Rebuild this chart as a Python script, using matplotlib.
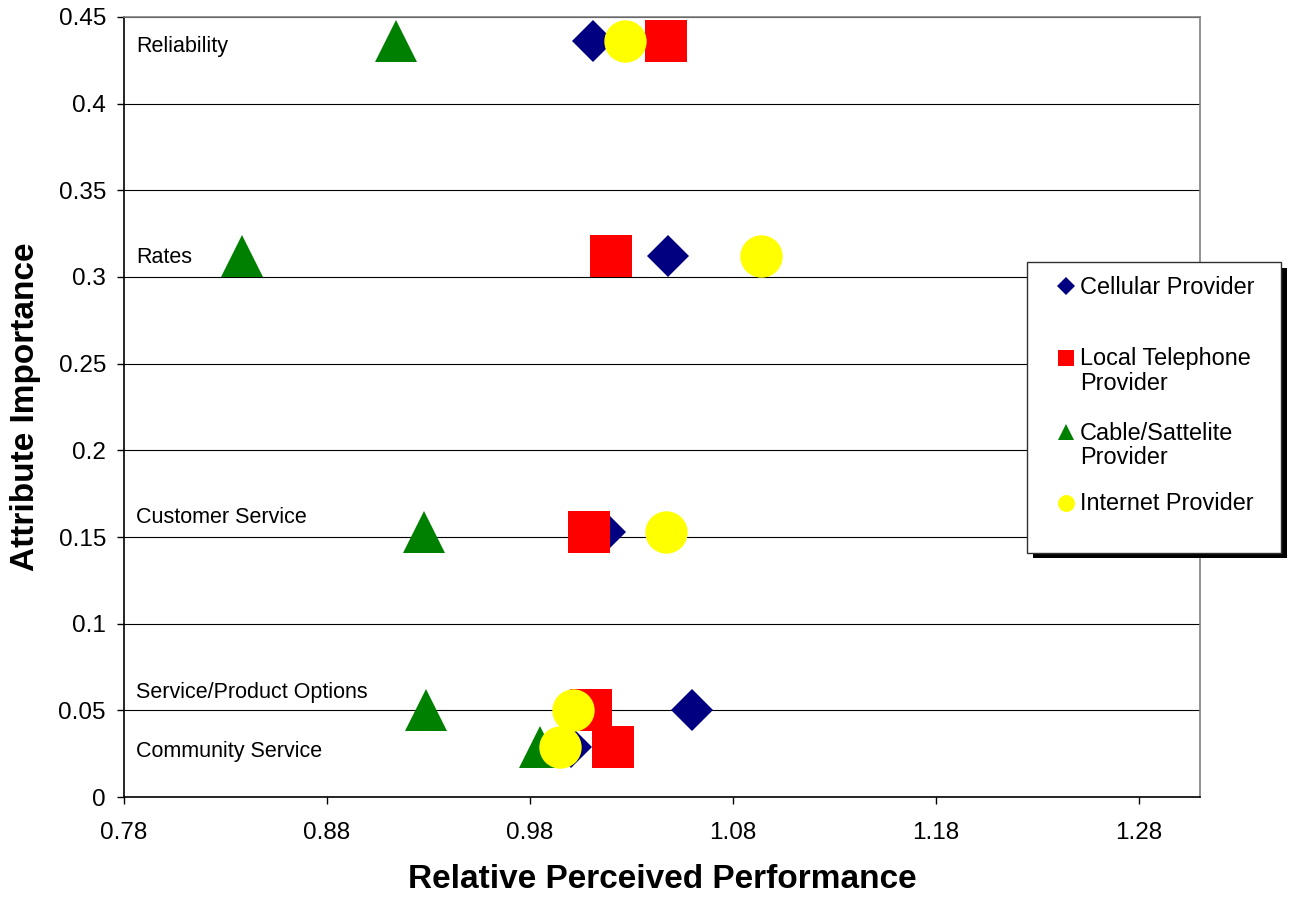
import matplotlib
matplotlib.use("Agg")
import matplotlib.pyplot as plt
from matplotlib.patches import Rectangle
from matplotlib.ticker import FuncFormatter, MultipleLocator

plt.rcParams['font.family'] = ['Liberation Sans', 'DejaVu Sans']

#------------- 数据 ---------------------#
attributes = ["Reliability", "Rates", "Customer Service",
              "Service/Product Options", "Community Service"]
importance = [0.436, 0.312, 0.153, 0.05, 0.029]
label_y = [0.433, 0.311, 0.161, 0.0605, 0.0265]

cellular = [1.011, 1.048, 1.017, 1.060, 1.000]
local_tel = [1.047, 1.020, 1.009, 1.010, 1.021]
cable = [0.914, 0.838, 0.928, 0.929, 0.985]
internet = [1.027, 1.094, 1.047, 1.001, 0.995]

series_names = ["Cellular Provider", "Local Telephone\nProvider",
                "Cable/Sattelite\nProvider", "Internet Provider"]
series_vals = [cellular, local_tel, cable, internet]
markers = ['D', 's', '^', 'o']
colors = ['#000080', '#FF0000', '#008000', '#FFFF00']
msizes = [21.5, 30.5, 30.5, 30.5]

#------------- 画布 ---------------------#
W, H = 1291, 899
fig = plt.figure(figsize=(W / 100, H / 100), dpi=100)
ax = fig.add_axes([124 / W, 1 - 797 / H, (1200 - 124) / W, (797 - 17) / H])

for vals, m, c, ms in zip(series_vals, markers, colors, msizes):
    ax.plot(vals, importance, linestyle='none', marker=m, color=c,
            markersize=ms, markeredgewidth=0, zorder=3)

for name, y in zip(attributes, label_y):
    ax.text(0.786, y, name, fontsize=15.5, va='center', ha='left', zorder=4)

ax.set_xlim(0.78, 1.31)
ax.set_ylim(0, 0.45)
ax.set_xticks([0.78, 0.88, 0.98, 1.08, 1.18, 1.28])
ax.xaxis.set_major_formatter(FuncFormatter(lambda v, p: '%g' % round(v, 2)))
ax.yaxis.set_major_locator(MultipleLocator(0.05))
ax.yaxis.set_major_formatter(FuncFormatter(lambda v, p: '%g' % round(v, 2)))
ax.grid(axis='y', color='black', linewidth=0.8)
ax.set_axisbelow(True)

ax.tick_params(axis='both', direction='out', length=5, width=1, labelsize=17.5)
ax.tick_params(axis='x', pad=13)
ax.tick_params(axis='y', pad=8)

ax.spines['left'].set_color('black')
ax.spines['bottom'].set_color('black')
ax.spines['top'].set_color('#808080')
ax.spines['right'].set_color('#808080')
for s in ax.spines.values():
    s.set_linewidth(1.2)

ax.set_xlabel("Relative Perceived Performance", fontsize=24, fontweight='bold', va='center')
ax.set_ylabel("Attribute Importance", fontsize=24, fontweight='bold', va='center')
ax.xaxis.set_label_coords((662 - 124) / 1076, -(880 - 797) / 780)
ax.yaxis.set_label_coords(-(124 - 26) / 1076, 0.5)

#------------- 图例 (像素坐标) ---------------------#
lg = fig.add_axes([0, 0, 1, 1], facecolor='none')
lg.set_xlim(0, W)
lg.set_ylim(H, 0)
lg.axis('off')
lg.add_patch(Rectangle((1033, 268), 254, 290, facecolor='black', edgecolor='none'))
lg.add_patch(Rectangle((1027, 262), 254, 291, facecolor='white', edgecolor='#303030', linewidth=1))

row_y = [286, 358, 432, 503]
leg_ms = [8.7, 12.2, 12.2, 12.2]
for name, m, c, ms, y in zip(series_names, markers, colors, leg_ms, row_y):
    lg.plot([1066], [y], linestyle='none', marker=m, color=c, markersize=ms, markeredgewidth=0)
    for i, line in enumerate(name.split('\n')):
        lg.text(1080, y + 1 + i * 25, line, fontsize=16.9, va='center', ha='left')

fig.savefig("out.png", dpi=100)
